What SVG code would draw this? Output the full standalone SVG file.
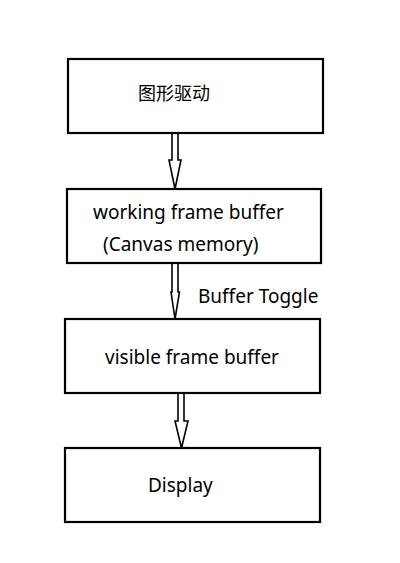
<svg xmlns="http://www.w3.org/2000/svg" width="400" height="563" viewBox="0 0 400 563">
<style>
.box{fill:#fff;stroke:#000;stroke-width:2.2}
.lbl{font-family:"Noto Sans","Noto Sans CJK SC",sans-serif;font-size:19px;fill:#000}
.arr{fill:#fff;stroke:#000;stroke-width:1.6;stroke-linejoin:miter}
</style>
<rect width="400" height="563" fill="#fff"/>
<g id="connectors">
<path class="arr" d="M172,133 L172,160 L169,160 L175,189 L181,160 L178,160 L178,133"/>
<path class="arr" d="M172,263 L172,292 L171,292 L175,319 L179.5,292 L178,292 L178,263"/>
<path class="arr" d="M178,393 L178,421 L175,421 L181.5,448 L188,421 L184,421 L184,393"/>
<text class="lbl" x="198" y="303">Buffer Toggle</text>
</g>
<g id="node1">
<rect class="box" x="68" y="59" width="255" height="74"/>
<text class="lbl" x="138" y="100" style="font-size:18px">图形驱动</text>
</g>
<g id="node2">
<rect class="box" x="67" y="189" width="254" height="74"/>
<text class="lbl" x="93" y="219">working frame buffer</text>
<text class="lbl" x="103" y="251">(Canvas memory)</text>
</g>
<g id="node3">
<rect class="box" x="65" y="319" width="255" height="74"/>
<text class="lbl" x="105" y="364">visible frame buffer</text>
</g>
<g id="node4">
<rect class="box" x="65" y="448" width="255" height="74"/>
<text class="lbl" x="148" y="492">Display</text>
</g>
</svg>
